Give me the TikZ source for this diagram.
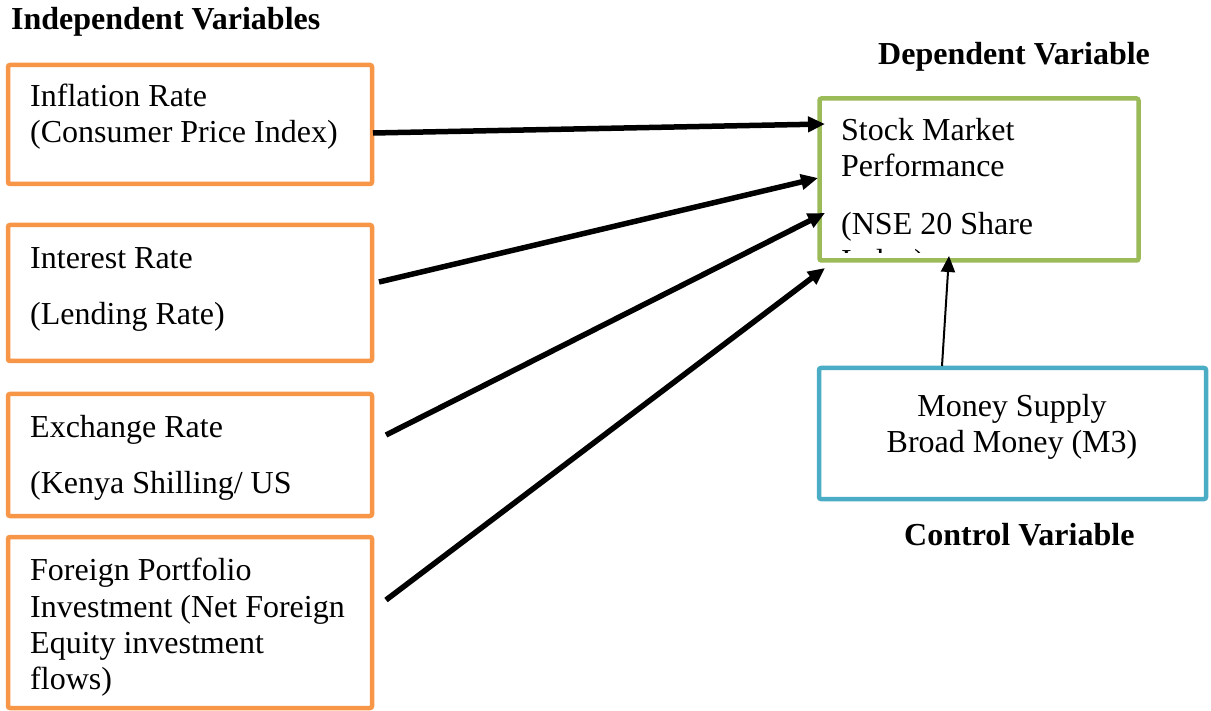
\documentclass[tikz,border=0pt]{standalone}
\usepackage{fontspec}
\setmainfont{Liberation Serif}
\usetikzlibrary{arrows.meta}
\definecolor{borange}{HTML}{F79646}
\definecolor{bgreen}{HTML}{9BBB59}
\definecolor{bblue}{HTML}{4BACC6}
\begin{document}
\begin{tikzpicture}[x=1pt,y=-1pt,
  box/.style={draw, line width=4.5pt, rounded corners=2pt, inner sep=0pt, fill=white},
  obox/.style={box, draw=borange},
  txt/.style={inner sep=0pt, anchor=base west, font=\fontsize{32}{36}\selectfont},
  ctxt/.style={inner sep=0pt, anchor=base, font=\fontsize{32}{36}\selectfont},
  hdr/.style={inner sep=0pt, anchor=base west, font=\fontsize{32}{36}\selectfont\bfseries},
  thick arr/.style={line width=5.5pt, -{Triangle[length=17pt,width=15pt]}},
  thin arr/.style={line width=2pt, -{Triangle[length=16pt,width=14pt]}}
]
\useasboundingbox (0,0) rectangle (1211,711);
% boxes
\node[obox, minimum width=364pt, minimum height=119pt] (inf) at (190,124.5) {};
\node[obox, minimum width=364pt, minimum height=136pt] (int) at (190,293) {};
\node[obox, minimum width=364pt, minimum height=122pt] (exc) at (190,455) {};
\node[obox, minimum width=364pt, minimum height=171pt] (fpi) at (190,622.5) {};
\node[box, draw=bgreen, minimum width=319pt, minimum height=162pt] (smp) at (979,179.5) {};
\node[box, draw=bblue, minimum width=387pt, minimum height=131pt] (msup) at (1012.5,433.5) {};
% headers
\node[hdr] (hiv) at (11,30) {Independent Variables};
\node[hdr] (hdv) at (878,65) {Dependent Variable};
\node[hdr] (hcv) at (904,545) {Control Variable};
% independent texts
\node[txt] (t1a) at (30,107) {Inflation Rate};
\node[txt] (t1b) at (30,143) {(Consumer Price Index)};
\node[txt] (t2a) at (30,269) {Interest Rate};
\node[txt] (t2b) at (30,325) {(Lending Rate)};
\node[txt] (t3a) at (30,437) {Exchange Rate};
\node[txt] (t3b) at (30,493) {(Kenya Shilling/ US};
\node[txt] (t4a) at (30,580) {Foreign Portfolio};
\node[txt] (t4b) at (30,617) {Investment (Net Foreign};
\node[txt] (t4c) at (30,653) {Equity investment};
\node[txt] (t4d) at (30,689) {flows)};
% dependent texts
\node[txt] (d1) at (841,141) {Stock Market};
\node[txt] (d2) at (841,177) {Performance};
\node[txt] (d3) at (841,235) {(NSE 20 Share};
\begin{scope}
  \clip (830,240) rectangle (1130,252.5);
  \node[txt] (d4) at (841,272) {Index)};
\end{scope}
% control texts
\node[ctxt] (m1) at (1012,417) {Money Supply};
\node[ctxt] (m2) at (1012,453) {Broad Money (M3)};
% arrow end points
\coordinate (s1) at (373,133);
\coordinate (e1) at (825,124);
\coordinate (s2) at (379,282);
\coordinate (e2) at (818,178);
\coordinate (s3) at (386,435);
\coordinate (e3) at (825,213);
\coordinate (s4) at (386,600);
\coordinate (e4) at (825,268);
\coordinate (s5) at (942,366);
\coordinate (e5) at (949,256);
\draw[thick arr] (s1) -- (e1);
\draw[thick arr] (s2) -- (e2);
\draw[thick arr] (s3) -- (e3);
\draw[thick arr] (s4) -- (e4);
\draw[thin arr] (s5) -- (e5);
\end{tikzpicture}
\end{document}
